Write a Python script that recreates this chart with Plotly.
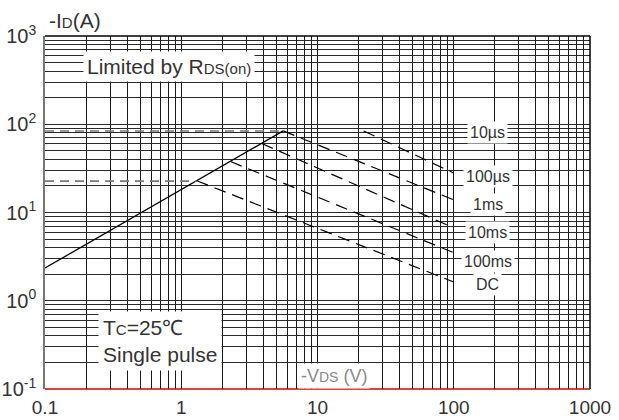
import math
import plotly.graph_objects as go

# ---- data ----
rds_v = [0.1, 5.6]
rds_i = [2.35, 84]

limit_levels_i = [84, 22.7]
limit_levels_v_end = [5.6, 1.3]

pulse_names = ["100µs", "1ms", "10ms", "100ms", "DC"]
pulse_v_start = [21.8, 5.6, 3.9, 2.3, 1.3]
pulse_i_start = [84, 84, 60.5, 37.8, 22.9]
pulse_v_end = [100, 100, 100, 100, 100]
pulse_i_end = [28, 13.9, 6.7, 3.5, 1.63]

x_decades = [0.1, 1, 10, 100, 1000]
x_decade_labels = ["0.1", "1", "10", "100", "1000"]
y_decades = [0.1, 1, 10, 100, 1000]
y_decade_labels = ["10<sup>-1</sup>", "10<sup>0</sup>", "10<sup>1</sup>", "10<sup>2</sup>", "10<sup>3</sup>"]

right_labels = ["10µs", "100µs", "1ms", "10ms", "100ms", "DC"]
right_label_i = [79.6, 25.9, 12.2, 6.0, 2.75, 1.51]

# grid positions (1..9 per decade)
x_grid = [m * 10.0 ** e for e in range(-1, 3) for m in range(1, 10)] + [1000]
y_grid = [m * 10.0 ** e for e in range(-1, 3) for m in range(1, 10)] + [1000]


def tick_texts(grid, decades, labels):
    out = []
    for g in grid:
        hit = [lab for d, lab in zip(decades, labels) if abs(g - d) / d < 1e-9]
        out.append(hit[0] if hit else " ")
    return out


FONT = "Liberation Sans, Arial, sans-serif"
TXT = "#333333"

fig = go.Figure()

# Rds(on) limit line
fig.add_trace(go.Scatter(x=rds_v, y=rds_i, mode="lines",
                         line=dict(color="black", width=1.3), hoverinfo="skip"))

# horizontal dashed current limits
for lvl, vend in zip(limit_levels_i, limit_levels_v_end):
    fig.add_trace(go.Scatter(x=[0.1, vend], y=[lvl, lvl], mode="lines",
                             line=dict(color="#7a7a7a", width=1.6, dash="9px,6px"),
                             hoverinfo="skip"))

# pulse lines
for name, xs, ys, xe, ye in zip(pulse_names, pulse_v_start, pulse_i_start, pulse_v_end, pulse_i_end):
    fig.add_trace(go.Scatter(x=[xs, xe], y=[ys, ye], mode="lines", name=name,
                             line=dict(color="black", width=1.2, dash="12px,7px"),
                             hoverinfo="skip"))

annotations = []
# right labels
for lab, yi in zip(right_labels, right_label_i):
    annotations.append(dict(x=2.25, y=math.log10(yi), xref="x", yref="y",
                            text=lab, showarrow=False, xanchor="center", yanchor="middle",
                            font=dict(family=FONT, size=16, color=TXT),
                            bgcolor="white", borderpad=2))

annotations += [
    dict(x=-0.72, y=2.65, xref="x", yref="y", xanchor="left", yanchor="middle",
         text="Limited by R<span style='font-size:15px'>DS(on)</span>", showarrow=False,
         font=dict(family=FONT, size=21, color=TXT), bgcolor="white", borderpad=3),
    dict(x=-0.61, y=-0.46, xref="x", yref="y", xanchor="left", yanchor="middle",
         text="T<span style='font-size:15px'>C</span>=25℃<br>Single pulse", showarrow=False,
         align="left", font=dict(family=FONT, size=21, color=TXT), bgcolor="white", borderpad=4),
    dict(x=0.465, y=0.0, xref="paper", yref="paper", xanchor="left", yanchor="bottom",
         text="-V<span style='font-size:14px'>DS</span> (V)", showarrow=False,
         font=dict(family=FONT, size=18, color="#8a8a8a"), bgcolor="white", borderpad=2),
    dict(x=0.004, y=1.005, xref="paper", yref="paper", xanchor="left", yanchor="bottom",
         text="-I<span style='font-size:15px'>D</span>(A)", showarrow=False,
         font=dict(family=FONT, size=21, color=TXT)),
]

fig.update_layout(
    width=619, height=420,
    margin=dict(l=45, r=29, t=36, b=31),
    paper_bgcolor="white", plot_bgcolor="white",
    showlegend=False,
    annotations=annotations,
    font=dict(family=FONT, color=TXT),
    shapes=[
        dict(type="line", xref="paper", yref="paper", x0=0, x1=1, y0=1, y1=1,
             line=dict(color="black", width=1.5), layer="above"),
        dict(type="line", xref="paper", yref="paper", x0=1, x1=1, y0=0, y1=1,
             line=dict(color="black", width=1.5), layer="above"),
        dict(type="line", xref="paper", yref="paper", x0=0, x1=1, y0=0, y1=0,
             line=dict(color="#d40000", width=1.6), layer="above"),
    ],
)

fig.update_xaxes(type="log", range=[-1, 3], tickmode="array",
                 tickvals=x_grid, ticktext=tick_texts(x_grid, x_decades, x_decade_labels),
                 showgrid=True, gridcolor="#1a1a1a", gridwidth=1.2, automargin=False,
                 showline=False, zeroline=False, ticks="", tickangle=0,
                 tickfont=dict(family=FONT, size=19, color=TXT), ticklabelstandoff=5)
fig.update_yaxes(type="log", range=[-1, 3], tickmode="array",
                 tickvals=y_grid, ticktext=tick_texts(y_grid, y_decades, y_decade_labels),
                 showgrid=True, gridcolor="#2a2a2a", gridwidth=1, automargin=False,
                 showline=True, linecolor="#777777", linewidth=1.5, zeroline=False, ticks="",
                 tickfont=dict(family=FONT, size=20, color=TXT), ticklabelstandoff=3)

# remove the browser's default 8px body margin so the figure sits at the page origin
fig.write_html("out.html", config={"displayModeBar": False},
               post_script="document.body.style.margin='0px';document.body.style.overflow='hidden';")
